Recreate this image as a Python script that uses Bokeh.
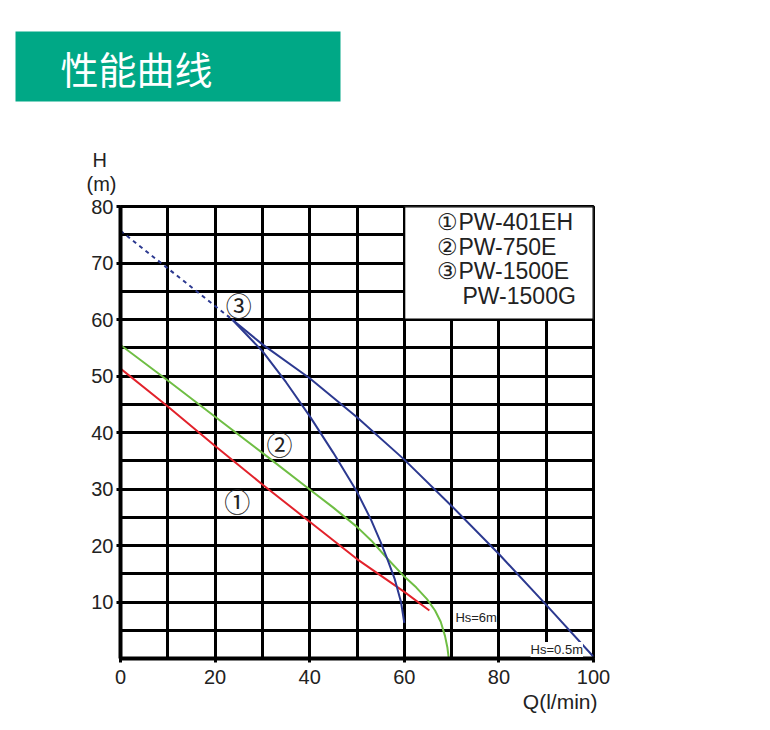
from bokeh.plotting import figure
from bokeh.models import Range1d, FixedTicker, Label, Title
from bokeh.embed import file_html
from bokeh.resources import INLINE
from bokeh.core.properties import value

# ---------------- data ----------------
title_text = "性能曲线"

# ① PW-401EH
q1 = [0, 10, 20, 30, 40, 50, 60, 65.3]
h1 = [51.3, 44.6, 37.6, 30.8, 24.2, 17.6, 11.8, 8.5]

# ② PW-750E
q2 = [0, 10, 20, 30, 40, 45, 50, 53, 56.4, 60, 62.5, 64.8, 66.5, 67.7, 68.6, 69.1, 69.4]
h2 = [55.5, 49.2, 42.8, 36.4, 29.9, 26.7, 23.3, 20.9, 17.7, 14.5, 12.6, 10.5, 8.5, 6.5, 4.0, 2.0, 0.0]

# ③ PW-1500E / PW-1500G : dashed extension
q3_dash = [0, 23.6]
h3_dash = [75.7, 60.0]
# ③ Hs=0.5m branch
q3_a = [23.6, 30, 40, 50, 60, 70, 80, 90, 100]
h3_a = [60.0, 55.6, 49.6, 42.7, 35.2, 27.0, 18.5, 9.5, 0.3]
# ③ Hs=6m branch
q3_b = [23.6, 30, 35, 40, 45, 50, 53, 55, 56.5, 58, 59.3, 60]
h3_b = [60.0, 54.4, 48.9, 42.9, 36.4, 29.5, 24.5, 20.6, 17.4, 14.0, 10.0, 6.3]

legend_lines = ["①PW-401EH", "②PW-750E", "③PW-1500E", "PW-1500G"]
curve_marks = ["①", "②", "③"]
hs_labels = ["Hs=6m", "Hs=0.5m"]

x_ticks = [0, 20, 40, 60, 80, 100]
y_ticks = [10, 20, 30, 40, 50, 60, 70, 80]
x_grid = [10, 20, 30, 40, 50, 60, 70, 80, 90]
y_grid = [5, 10, 15, 20, 25, 30, 35, 40, 45, 50, 55, 60, 65, 70, 75]

RED = "#e2222b"
GREEN = "#6fbe44"
BLUE = "#2c3990"
TXT = "#222222"
FONT = "Liberation Sans"

# ---------------- chart ----------------
p = figure(width=754, height=714, x_range=Range1d(0, 100), y_range=Range1d(0, 80),
           output_backend="svg", toolbar_location=None, title=None,
           min_border_left=120, min_border_right=161, min_border_top=206, min_border_bottom=54)

p.outline_line_color = "black"
p.outline_line_width = 3

p.xgrid.ticker = FixedTicker(ticks=x_grid)
p.ygrid.ticker = FixedTicker(ticks=y_grid)
for g in (p.xgrid, p.ygrid):
    g.grid_line_color = "black"
    g.grid_line_width = 3
    g.grid_line_alpha = 1.0

p.xaxis.ticker = FixedTicker(ticks=x_ticks)
p.yaxis.ticker = FixedTicker(ticks=y_ticks)
for ax in (p.xaxis, p.yaxis):
    ax.axis_line_color = "black"
    ax.axis_line_width = 4
    ax.major_tick_line_color = "black"
    ax.major_tick_line_width = 3
    ax.major_tick_out = 4
    ax.major_tick_in = 0
    ax.minor_tick_line_color = None
    ax.major_label_text_font = FONT
    ax.major_label_text_font_size = "20px"
    ax.major_label_text_color = TXT
p.xaxis.major_label_standoff = 7
p.yaxis.major_label_standoff = 3

# legend box
p.quad(left=[60], right=[100], bottom=[60], top=[80], fill_color="white",
       line_color="black", line_width=2)
p.text(x=[67.0, 67.0, 67.0, 72.3], y=[77.2, 72.9, 68.6, 64.2], text=legend_lines,
       text_color=TXT, text_font=value(FONT), text_font_size="23px",
       text_baseline="middle", text_align="left")

# curves
p.line(q1, h1, line_color=RED, line_width=2)
p.line(q2, h2, line_color=GREEN, line_width=2)
p.line(q3_dash, h3_dash, line_color=BLUE, line_width=2, line_dash="4 4")
p.line(q3_a, h3_a, line_color=BLUE, line_width=2)
p.line(q3_b, h3_b, line_color=BLUE, line_width=2)

# curve marks
p.text(x=[24.7, 33.6, 25.0], y=[27.9, 38.1, 62.6], text=curve_marks,
       text_color=TXT, text_font=value("Noto Sans CJK SC"), text_font_size="26px",
       text_baseline="middle", text_align="center")

# Hs labels
p.add_layout(Label(x=70.8, y=7.2, text=hs_labels[0], text_font=FONT, text_font_size="13px",
                   text_color=TXT, text_baseline="middle", text_align="left",
                   background_fill_color="white"))
p.add_layout(Label(x=86.7, y=1.6, text=hs_labels[1], text_font=FONT, text_font_size="13px",
                   text_color=TXT, text_baseline="middle", text_align="left",
                   background_fill_color="white"))

# axis titles (as titles so they are drawn outside the frame)
p.add_layout(Title(text="(m)", align="left", offset=-34, text_font=FONT,
                   text_font_size="20px", text_font_style="normal", text_color=TXT,
                   text_line_height=1.0, standoff=0,
                   padding=dict(left=0, right=0, top=0, bottom=12)), "above")
p.add_layout(Title(text="H", align="left", offset=-28, text_font=FONT,
                   text_font_size="20px", text_font_style="normal", text_color=TXT,
                   text_line_height=1.0, standoff=0,
                   padding=dict(left=0, right=0, top=17, bottom=0)), "above")
p.add_layout(Title(text=title_text, align="left", offset=-105, text_font="Noto Sans CJK SC",
                   text_font_size="38px", text_font_style="normal", text_color="white",
                   background_fill_color="#00a886",
                   padding=dict(left=45, right=128, top=8, bottom=7),
                   standoff=56), "above")
p.add_layout(Title(text="Q(l/min)", align="right", offset=-4, text_font=FONT,
                   text_font_size="21px", text_font_style="normal", text_color=TXT,
                   standoff=3), "below")

open("out.html", "w").write(file_html(p, INLINE))
